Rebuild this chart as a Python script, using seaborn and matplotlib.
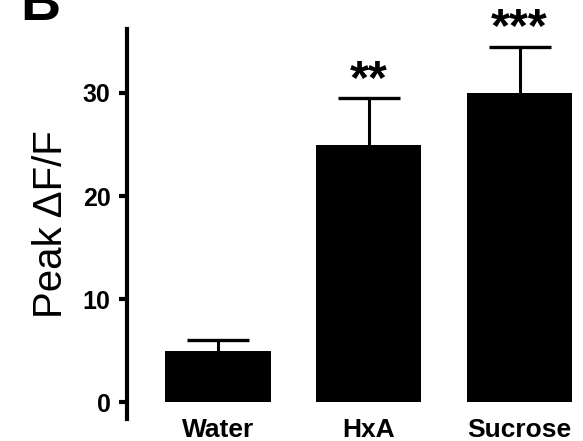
import matplotlib
matplotlib.use("Agg")
import matplotlib.pyplot as plt
import seaborn as sns
import pandas as pd

categories = ["Water", "HxA", "Sucrose"]
means = [5.0, 25.0, 30.0]
sems = [1.1, 4.5, 4.5]
stars = ["", "**", "***"]

sns.set_style("ticks")
plt.rcParams['font.family'] = ['Liberation Sans', 'DejaVu Sans']
plt.rcParams['text.color'] = 'black'
plt.rcParams['axes.labelcolor'] = 'black'
plt.rcParams['xtick.color'] = 'black'
plt.rcParams['ytick.color'] = 'black'
plt.rcParams['axes.edgecolor'] = 'black'

df = pd.DataFrame({"cond": categories, "val": means})

fig = plt.figure(figsize=(5.83, 4.41), dpi=100)
ax = fig.add_axes([0.218, 0.0499, 0.782, 0.8843])

sns.barplot(data=df, x="cond", y="val", color="black", width=0.7,
            saturation=1, errorbar=None, ax=ax, zorder=3,
            edgecolor="black", linewidth=0)
eb = ax.errorbar(range(len(categories)), means, yerr=[[0]*3, sems], fmt="none",
                 ecolor="black", elinewidth=2.2, capsize=22, capthick=2.4, zorder=2)
# hide the lower caps (only upper error shown)
if len(eb[1]) == 2:
    eb[1][0].set_visible(False)

for i, (m, s, st) in enumerate(zip(means, sems, stars)):
    if st:
        ax.text(i, m + s + 0.5, st, ha="center", va="baseline",
                fontsize=35, fontweight="bold")

ax.set_ylim(-1.6, 36.2)
ax.set_xlim(-0.6, 2.42)
ax.set_yticks([0, 10, 20, 30])
ax.set_xlabel("")
ax.set_ylabel("Peak \u0394F/F", fontsize=29, labelpad=9)
sns.despine(ax=ax, bottom=True)
ax.spines["left"].set_linewidth(3)
ax.tick_params(axis="y", length=6, width=3, pad=6, labelsize=18)
ax.tick_params(axis="x", length=0, pad=-1, labelsize=19)
for lab in ax.get_yticklabels() + ax.get_xticklabels():
    lab.set_fontweight("bold")

fig.text(0.035, 1 - 20 / 441, "B", fontsize=40, fontweight="bold",
         ha="left", va="baseline")

fig.savefig("out.png", dpi=100)
